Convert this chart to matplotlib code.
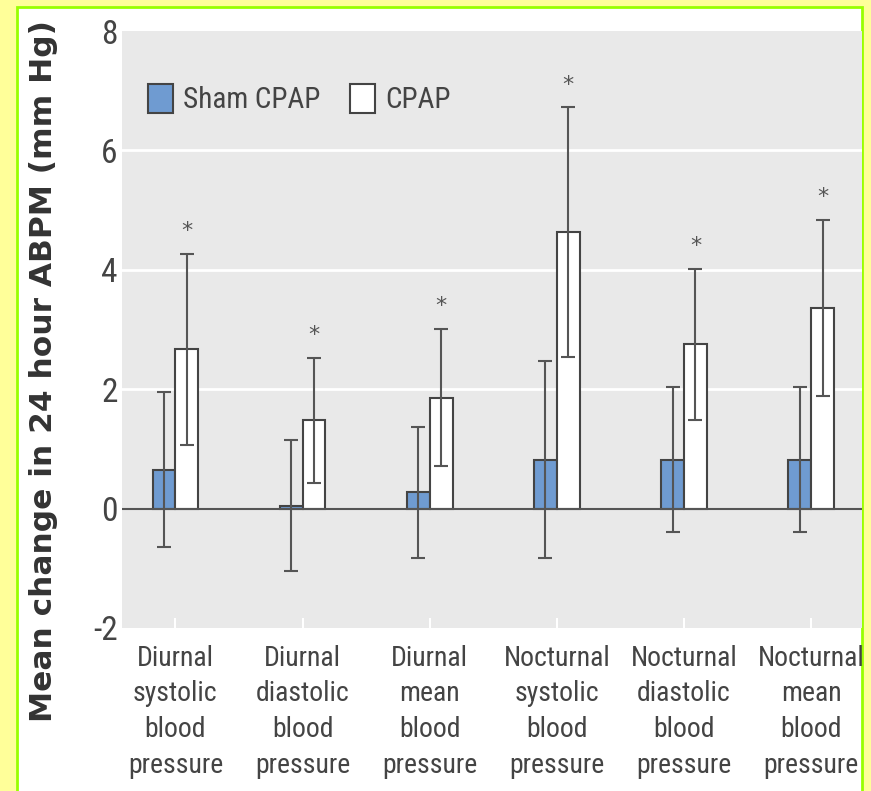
import matplotlib.pyplot as plt
import matplotlib.patches as mpatches
import matplotlib.font_manager as fm
import numpy as np

# Данные (читаются с рисунка)
categories = ['Diurnal\nsystolic\nblood\npressure', 'Diurnal\ndiastolic\nblood\npressure',
              'Diurnal\nmean\nblood\npressure', 'Nocturnal\nsystolic\nblood\npressure',
              'Nocturnal\ndiastolic\nblood\npressure', 'Nocturnal\nmean\nblood\npressure']
sham = [0.65, 0.05, 0.27, 0.82, 0.82, 0.82]
sham_err = [1.3, 1.1, 1.1, 1.65, 1.21, 1.21]
cpap = [2.67, 1.48, 1.86, 4.63, 2.75, 3.36]
cpap_err = [1.6, 1.05, 1.15, 2.09, 1.27, 1.48]
yticks = [-2, 0, 2, 4, 6, 8]

# узкий шрифт, если есть
names = {f.name for f in fm.fontManager.ttflist}
narrow = None
for cand in ['Roboto Condensed', 'Liberation Sans Narrow', 'Open Sans Condensed', 'DejaVu Sans Condensed']:
    if cand in names:
        narrow = cand
        break
cond = [f for f in fm.fontManager.ttflist if f.name == 'DejaVu Sans' and 'condensed' in str(f.stretch)]
if narrow is None and cond:
    nfont = fm.FontProperties(fname=cond[0].fname)
elif narrow is None:
    nfont = fm.FontProperties(family='Roboto')
else:
    nfont = fm.FontProperties(family=narrow)
txt = '#444444'

def nf(size):
    p = nfont.copy()
    p.set_size(size)
    return p

fig = plt.figure(figsize=(8.71, 7.91), dpi=100, facecolor='#ffff99')
# белая панель с салатовой рамкой
fig.patches.append(mpatches.Rectangle((17 / 871, -0.01), 845 / 871, 1 - 7 / 791 + 0.01,
                                      transform=fig.transFigure, facecolor='white',
                                      edgecolor='#99ff00', linewidth=2, zorder=-10))

ax = fig.add_axes([122 / 871, 1 - 628 / 791, 740 / 871, 597 / 791])
ax.set_facecolor('#e9e9e9')

x = np.arange(len(categories))
w = 0.18
ax.bar(x - w / 2, sham, w, color='#6f9bd1', edgecolor='#444444', linewidth=1.5,
       label='Sham CPAP', zorder=3)
ax.bar(x + w / 2, cpap, w, color='white', edgecolor='#444444', linewidth=1.5,
       label='CPAP', zorder=3)
ax.errorbar(x - w / 2, sham, yerr=sham_err, fmt='none', ecolor='#555555',
            elinewidth=1.5, capsize=5, capthick=1.5, zorder=4)
ax.errorbar(x + w / 2, cpap, yerr=cpap_err, fmt='none', ecolor='#555555',
            elinewidth=1.5, capsize=5, capthick=1.5, zorder=4)

for xi, c, e in zip(x, cpap, cpap_err):
    ax.text(xi + w / 2, c + e + 0.38, '*', ha='center', va='center',
            fontsize=16, color='#555555', zorder=5)

ax.axhline(0, color='#555555', linewidth=1.5, zorder=3.5)
for yv in [2, 4, 6]:
    ax.axhline(yv, color='white', linewidth=2, zorder=1)

ax.set_xlim(-0.42, 5.4)
ax.set_ylim(-2, 8)
ax.set_yticks(yticks)
ax.set_yticklabels([str(v) for v in yticks], fontproperties=nf(24), color=txt)
ax.set_xticks(x)
ax.set_xticklabels(categories, fontproperties=nf(20), color=txt, linespacing=1.42)
ax.tick_params(axis='y', length=0, pad=3)
ax.tick_params(axis='x', direction='in', color='white', length=7, width=1.5, pad=12)
for s in ax.spines.values():
    s.set_visible(False)

ax.set_ylabel('Mean change in 24 hour ABPM (mm Hg)', fontsize=22.5, fontweight='bold',
              color='#333333', labelpad=0)
ax.yaxis.set_label_coords(-0.086, 0.43)

ax.legend(loc='upper left', bbox_to_anchor=(0.0, 0.955), ncol=2, frameon=False,
          prop=nf(21), labelcolor=txt, handlelength=0.85,
          handleheight=1.15, handletextpad=0.35, columnspacing=1.0)

fig.savefig('out.png', dpi=100, facecolor=fig.get_facecolor())
